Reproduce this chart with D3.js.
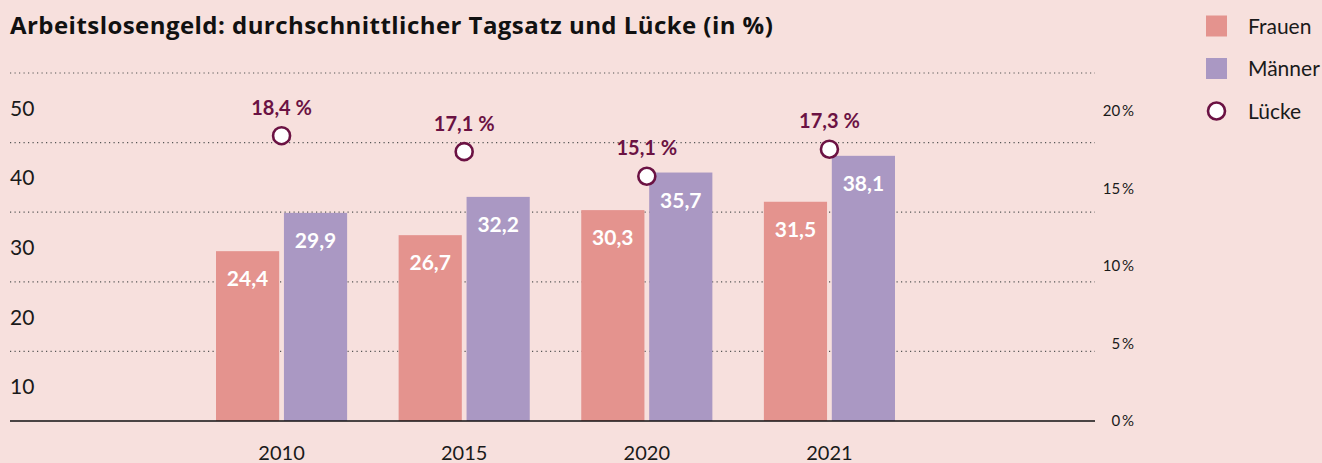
<!DOCTYPE html>
<html><head><meta charset="utf-8">
<script src="https://cdn.jsdelivr.net/npm/d3@7"></script>
<style>
html,body{margin:0;padding:0;background:#f7e0dd;}
svg{display:block;font-family:Lato, "Noto Sans", sans-serif;}
</style></head>
<body>
<svg id="chart" width="1322" height="463"></svg>
<script>
const years = ["2010", "2015", "2020", "2021"];
const frauen = [24.4, 26.7, 30.3, 31.5];
const maenner = [29.9, 32.2, 35.7, 38.1];
const luecke = [18.4, 17.1, 15.1, 17.3];
const leftTicks = [10, 20, 30, 40, 50];
const rightTicks = [0, 5, 10, 15, 20];
const seriesNames = ["Frauen", "Männer", "Lücke"];
const titleText = "Arbeitslosengeld: durchschnittlicher Tagsatz und Lücke (in %)";

const colF = "#e4938e", colM = "#aa98c3", colGap = "#6b1243", bg = "#f7e0dd";
const fmt = v => String(v).replace(".", ",");

const svg = d3.select("#chart");
svg.append("rect").attr("width", 1322).attr("height", 463).attr("fill", bg);

const x0 = d3.scaleBand().domain(years).range([216, 895]).paddingInner(0.282).paddingOuter(0);
const x1 = d3.scaleBand().domain(["F", "M"]).range([0, x0.bandwidth()]).paddingInner(0.07);
const y = d3.scaleLinear().domain([0, 50]).range([421, 73]);
const yR = d3.scaleLinear().domain([0, 20]).range([421, 111]);
const yGap = d3.scaleLinear().domain([0, 20]).range([362, 116]);

// title
svg.append("text").attr("x", 10).attr("y", 34).text(titleText)
  .style("font-family", "'Open Sans', Lato, sans-serif")
  .style("letter-spacing", "0.45px")
  .attr("font-size", 24).attr("font-weight", 700).attr("fill", "#111");

// gridlines
svg.append("g").selectAll("line").data(leftTicks).join("line")
  .attr("x1", 10).attr("x2", 1095).attr("y1", d => y(d)).attr("y2", d => y(d))
  .attr("stroke", "#555").attr("stroke-width", 1.2).attr("stroke-dasharray", "1.2,3.3");

// left labels (placed in the middle of the band below each gridline)
const half = (y(0) - y(10)) / 2;
svg.append("g").selectAll("text").data(leftTicks).join("text")
  .attr("x", 10).attr("y", d => y(d) + half + 8).text(d => d)
  .attr("font-size", 21).attr("fill", "#1a1a1a");

// right labels
svg.append("g").selectAll("text").data(rightTicks).join("text")
  .attr("x", 1134).attr("y", d => yR(d) + 5).attr("text-anchor", "end")
  .text(d => d + "\u2009%").attr("font-size", 15).attr("fill", "#1a1a1a");

// bars
const groups = svg.append("g").selectAll("g").data(years).join("g")
  .attr("transform", d => `translate(${x0(d)},0)`);
groups.each(function(yr, i) {
  const g = d3.select(this);
  const vals = [{k: "F", v: frauen[i], c: colF}, {k: "M", v: maenner[i], c: colM}];
  g.selectAll("rect").data(vals).join("rect")
    .attr("x", d => x1(d.k)).attr("width", x1.bandwidth())
    .attr("y", d => y(d.v)).attr("height", d => y(0) - y(d.v)).attr("fill", d => d.c);
  g.selectAll("text.val").data(vals).join("text").attr("class", "val")
    .attr("x", d => x1(d.k) + x1.bandwidth() / 2).attr("y", d => y(d.v) + 35)
    .attr("text-anchor", "middle").attr("font-size", 21).attr("font-weight", 700)
    .attr("fill", "#fff").text(d => fmt(d.v));
});

// baseline
svg.append("line").attr("x1", 10).attr("x2", 1095).attr("y1", y(0)).attr("y2", y(0))
  .attr("stroke", "#111").attr("stroke-width", 1.5);

// x labels
svg.append("g").selectAll("text").data(years).join("text")
  .attr("x", d => x0(d) + x0.bandwidth() / 2).attr("y", 460).attr("text-anchor", "middle")
  .attr("font-size", 20).attr("fill", "#1a1a1a").text(d => d);

// gap points
const gapG = svg.append("g");
gapG.selectAll("circle").data(years).join("circle")
  .attr("cx", d => x0(d) + x0.bandwidth() / 2).attr("cy", (d, i) => yGap(luecke[i]))
  .attr("r", 8.5).attr("fill", "#fff").attr("stroke", colGap).attr("stroke-width", 2.6);
gapG.selectAll("text").data(years).join("text")
  .attr("x", d => x0(d) + x0.bandwidth() / 2).attr("y", (d, i) => yGap(luecke[i]) - 21)
  .attr("text-anchor", "middle").attr("font-size", 20).attr("font-weight", 700)
  .attr("fill", colGap).text((d, i) => fmt(luecke[i]) + "\u00a0%");

// legend
const leg = svg.append("g");
const legY = d3.scalePoint().domain(seriesNames).range([26, 111]);
leg.selectAll("rect").data(seriesNames.slice(0, 2)).join("rect")
  .attr("x", 1206).attr("y", d => legY(d) - 10.5).attr("width", 21).attr("height", 21)
  .attr("fill", (d, i) => [colF, colM][i]);
leg.append("circle").attr("cx", 1216.5).attr("cy", legY("Lücke")).attr("r", 8.5)
  .attr("fill", "#fff").attr("stroke", colGap).attr("stroke-width", 2.6);
leg.selectAll("text").data(seriesNames).join("text")
  .attr("x", 1248).attr("y", d => legY(d) + 7.5).text(d => d)
  .attr("font-size", 21).attr("fill", "#1a1a1a");
</script>
</body></html>
